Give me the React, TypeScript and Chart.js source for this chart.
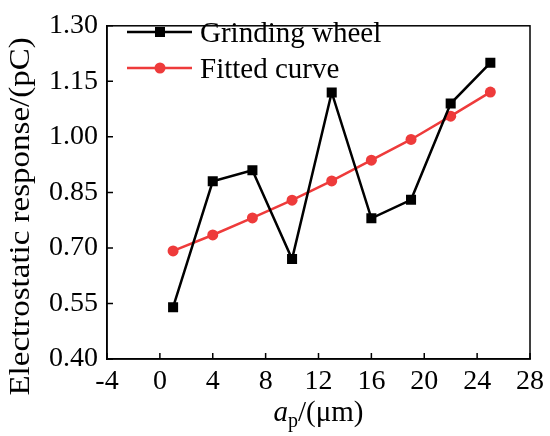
import { useEffect, useRef } from "react";
import { Chart, registerables } from "chart.js";

Chart.register(...registerables);

const depths = [1, 4, 7, 10, 13, 16, 19, 22, 25];
const wheelResponse = [0.54, 0.88, 0.91, 0.67, 1.12, 0.78, 0.83, 1.09, 1.2];
const fittedResponse = [0.692, 0.735, 0.781, 0.829, 0.881, 0.937, 0.993, 1.056, 1.121];
const seriesNames = ["Grinding wheel", "Fitted curve"];
const yTitle = "Electrostatic response/(pC)";

const RED = "#ee3b3b";
const SERIF = "'Liberation Serif', 'Times New Roman', serif";

const decorations = {
  id: "decorations",
  afterDraw(chart: any) {
    const { ctx, chartArea: a, scales } = chart;
    ctx.save();
    ctx.strokeStyle = "#000";
    ctx.lineWidth = 1.5;
    ctx.strokeRect(a.left, a.top, a.right - a.left, a.bottom - a.top);

    // inward tick marks
    ctx.beginPath();
    scales.x.ticks.forEach((t: any) => {
      const px = scales.x.getPixelForValue(t.value);
      ctx.moveTo(px, a.bottom);
      ctx.lineTo(px, a.bottom - 6);
    });
    scales.y.ticks.forEach((t: any) => {
      const py = scales.y.getPixelForValue(t.value);
      ctx.moveTo(a.left, py);
      ctx.lineTo(a.left + 6, py);
    });
    ctx.stroke();

    // legend
    chart.data.datasets.forEach((ds: any, i: number) => {
      const cy = 32 + i * 36;
      ctx.strokeStyle = ds.borderColor;
      ctx.fillStyle = ds.backgroundColor;
      ctx.lineWidth = ds.borderWidth;
      ctx.beginPath();
      ctx.moveTo(127, cy);
      ctx.lineTo(192, cy);
      ctx.stroke();
      ctx.beginPath();
      if (ds.pointStyle === "rect") {
        ctx.rect(155, cy - 5, 10, 10);
      } else {
        ctx.arc(160, cy, 5.5, 0, Math.PI * 2);
      }
      ctx.fill();
      ctx.fillStyle = "#000";
      ctx.font = `29px ${SERIF}`;
      ctx.textBaseline = "alphabetic";
      ctx.textAlign = "left";
      ctx.fillText(ds.label, 200, cy + 10);
    });

    // y title
    ctx.save();
    ctx.translate(29, (a.top + a.bottom) / 2 + 24);
    ctx.scale(0.88, 1);
    ctx.rotate(-Math.PI / 2);
    ctx.font = `33px ${SERIF}`;
    ctx.textAlign = "center";
    ctx.textBaseline = "alphabetic";
    ctx.fillStyle = "#000";
    ctx.fillText(yTitle, 0, 0);
    ctx.restore();

    // x title: a_p/(μm)
    ctx.fillStyle = "#000";
    ctx.textBaseline = "alphabetic";
    ctx.textAlign = "left";
    const base = 421;
    ctx.font = `italic 29px ${SERIF}`;
    const wA = ctx.measureText("a").width;
    ctx.font = `20px ${SERIF}`;
    const wP = ctx.measureText("p").width;
    ctx.font = `29px ${SERIF}`;
    const wRest = ctx.measureText("/(μm)").width;
    let x = (a.left + a.right) / 2 - (wA + wP + wRest) / 2;
    ctx.font = `italic 29px ${SERIF}`;
    ctx.fillText("a", x, base);
    x += wA;
    ctx.font = `20px ${SERIF}`;
    ctx.fillText("p", x, base + 6);
    x += wP;
    ctx.font = `29px ${SERIF}`;
    ctx.fillText("/(μm)", x, base);
    ctx.restore();
  },
};

const App = () => {
  const canvasRef = useRef<HTMLCanvasElement>(null);

  useEffect(() => {
    if (!canvasRef.current) return;
    const ctx = canvasRef.current.getContext("2d");
    if (!ctx) return;

    const chart = new Chart(ctx, {
      type: "line",
      data: {
        datasets: [
          {
            label: seriesNames[0],
            data: depths.map((d, i) => ({ x: d, y: wheelResponse[i] })),
            borderColor: "#000",
            backgroundColor: "#000",
            borderWidth: 2.5,
            pointStyle: "rect",
            pointRadius: 7.1,
            pointBorderWidth: 0,
          },
          {
            label: seriesNames[1],
            data: depths.map((d, i) => ({ x: d, y: fittedResponse[i] })),
            borderColor: RED,
            backgroundColor: RED,
            borderWidth: 2.5,
            pointStyle: "circle",
            pointRadius: 5.5,
            pointBorderWidth: 0,
          },
        ],
      },
      plugins: [decorations],
      options: {
        animation: false,
        responsive: true,
        maintainAspectRatio: false,
        layout: { padding: { top: 17, right: 17, left: 0, bottom: 0 } },
        plugins: {
          legend: { display: false },
          tooltip: { enabled: false },
        },
        scales: {
          x: {
            type: "linear",
            min: -4,
            max: 28,
            grid: { drawOnChartArea: false, drawTicks: false },
            border: { display: true, color: "#000", width: 1.5 },
            ticks: {
              stepSize: 4,
              autoSkip: false,
              maxRotation: 0,
              padding: 6,
              color: "#000",
              font: { family: SERIF, size: 28 },
            },
            afterFit: (s: any) => {
              s.height = 77;
            },
          },
          y: {
            type: "linear",
            min: 0.4,
            max: 1.3,
            grid: { drawOnChartArea: false, drawTicks: false },
            border: { display: true, color: "#000", width: 1.5 },
            ticks: {
              stepSize: 0.15,
              autoSkip: false,
              padding: 9,
              color: "#000",
              font: { family: SERIF, size: 28 },
              callback: (v: any) => Number(v).toFixed(2),
            },
            afterFit: (s: any) => {
              s.width = 107;
            },
          },
        },
      },
    });

    return () => chart.destroy();
  }, []);

  return (
    <div style={{ position: "fixed", left: 0, top: 0, width: 550, height: 436, background: "#fff" }}>
      <canvas ref={canvasRef}></canvas>
    </div>
  );
};

export default App;
